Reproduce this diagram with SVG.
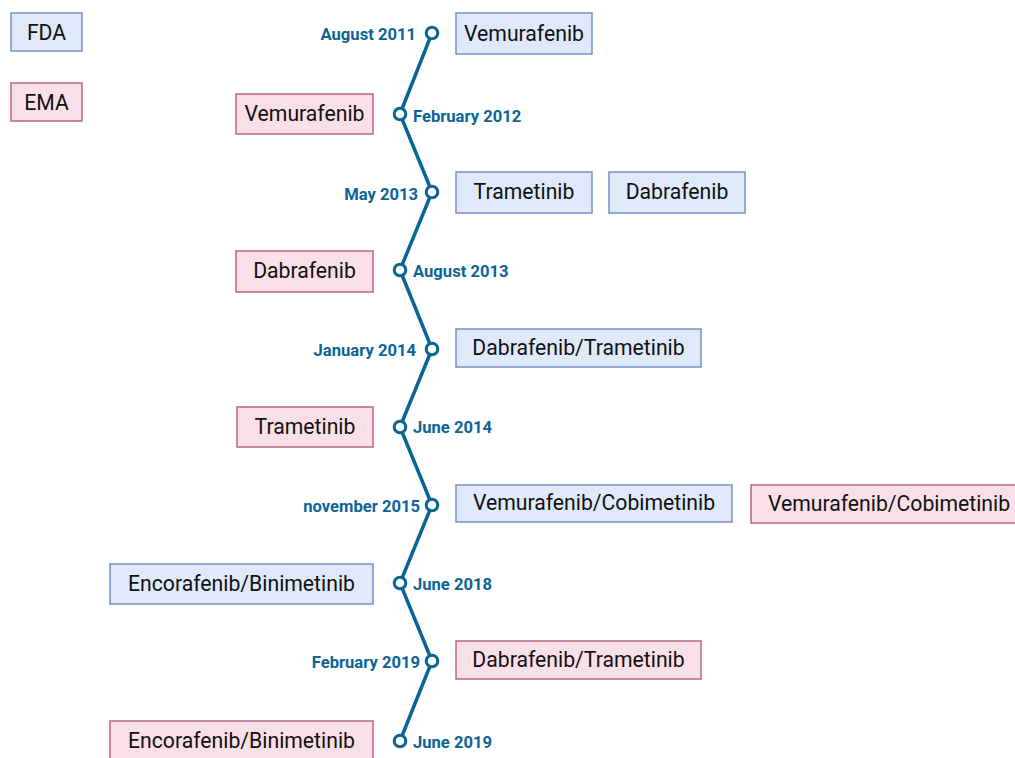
<svg xmlns="http://www.w3.org/2000/svg" width="1015" height="758" viewBox="0 0 1015 758">
<style>
.fda{fill:#dfe9f9;stroke:#7890c8;stroke-width:1.5}
.ema{fill:#f9dfe7;stroke:#b9668a;stroke-width:1.5}
.t{font-family:Roboto,"Liberation Sans",sans-serif;font-size:21.2px;fill:#111;text-anchor:middle}
.d{font-family:Roboto,"Liberation Sans",sans-serif;font-size:16.6px;font-weight:bold;fill:#0b6496}
.r{text-anchor:end}
.dot{fill:#fff;stroke:#0b6496;stroke-width:3}
.ln{fill:none;stroke:#0b6496;stroke-width:3.5;stroke-linejoin:round}
</style>
<rect width="1015" height="758" fill="#fff"/>
<g id="legend-fda"><rect class="fda" x="11" y="13" width="71" height="38"/><text class="t" x="46.5" y="39.5">FDA</text></g>
<g id="legend-ema"><rect class="ema" x="11" y="83" width="71" height="38"/><text class="t" x="46.5" y="109.5">EMA</text></g>
<g id="connectors">
<polyline class="ln" points="432,33 400,114 432,192 400,270 432,349 400,427 432,505 400,583 432,661 400,741"/>
</g>
<g id="timeline-dots">
<circle class="dot" cx="432" cy="33" r="5.8"/>
<circle class="dot" cx="400" cy="114" r="5.8"/>
<circle class="dot" cx="432" cy="192" r="5.8"/>
<circle class="dot" cx="400" cy="270" r="5.8"/>
<circle class="dot" cx="432" cy="349" r="5.8"/>
<circle class="dot" cx="400" cy="427" r="5.8"/>
<circle class="dot" cx="432" cy="505" r="5.8"/>
<circle class="dot" cx="400" cy="583" r="5.8"/>
<circle class="dot" cx="432" cy="661" r="5.8"/>
<circle class="dot" cx="400" cy="741" r="5.8"/>
</g>
<g id="dates">
<text class="d r" x="416" y="40">August 2011</text>
<text class="d" x="413" y="122">February 2012</text>
<text class="d r" x="418" y="200">May 2013</text>
<text class="d" x="413" y="277">August 2013</text>
<text class="d r" x="416" y="356">January 2014</text>
<text class="d" x="413" y="433">June 2014</text>
<text class="d r" x="420" y="512">november 2015</text>
<text class="d" x="413" y="590">June 2018</text>
<text class="d r" x="420" y="668">February 2019</text>
<text class="d" x="413" y="748">June 2019</text>
</g>
<g id="n1"><rect class="fda" x="456" y="13" width="136" height="41"/><text class="t" x="524" y="41">Vemurafenib</text></g>
<g id="n2"><rect class="ema" x="236" y="94" width="137" height="40"/><text class="t" x="304.5" y="121">Vemurafenib</text></g>
<g id="n3"><rect class="fda" x="456" y="172" width="136" height="41"/><text class="t" x="524" y="199">Trametinib</text></g>
<g id="n4"><rect class="fda" x="609" y="172" width="136" height="41"/><text class="t" x="677" y="199">Dabrafenib</text></g>
<g id="n5"><rect class="ema" x="236" y="251" width="137" height="41"/><text class="t" x="304.5" y="278">Dabrafenib</text></g>
<g id="n6"><rect class="fda" x="456" y="329" width="245" height="38"/><text class="t" x="578.5" y="355">Dabrafenib/Trametinib</text></g>
<g id="n7"><rect class="ema" x="237" y="407" width="136" height="40"/><text class="t" x="305" y="434">Trametinib</text></g>
<g id="n8"><rect class="fda" x="456" y="485" width="276" height="37"/><text class="t" x="594" y="510">Vemurafenib/Cobimetinib</text></g>
<g id="n9"><rect class="ema" x="751" y="485" width="270" height="38"/><text class="t" x="889" y="511">Vemurafenib/Cobimetinib</text></g>
<g id="n10"><rect class="fda" x="110" y="564" width="263" height="40"/><text class="t" x="241.5" y="591">Encorafenib/Binimetinib</text></g>
<g id="n11"><rect class="ema" x="456" y="641" width="245" height="38"/><text class="t" x="578.5" y="667">Dabrafenib/Trametinib</text></g>
<g id="n12"><rect class="ema" x="110" y="721" width="263" height="42"/><text class="t" x="241.5" y="748">Encorafenib/Binimetinib</text></g>
</svg>
